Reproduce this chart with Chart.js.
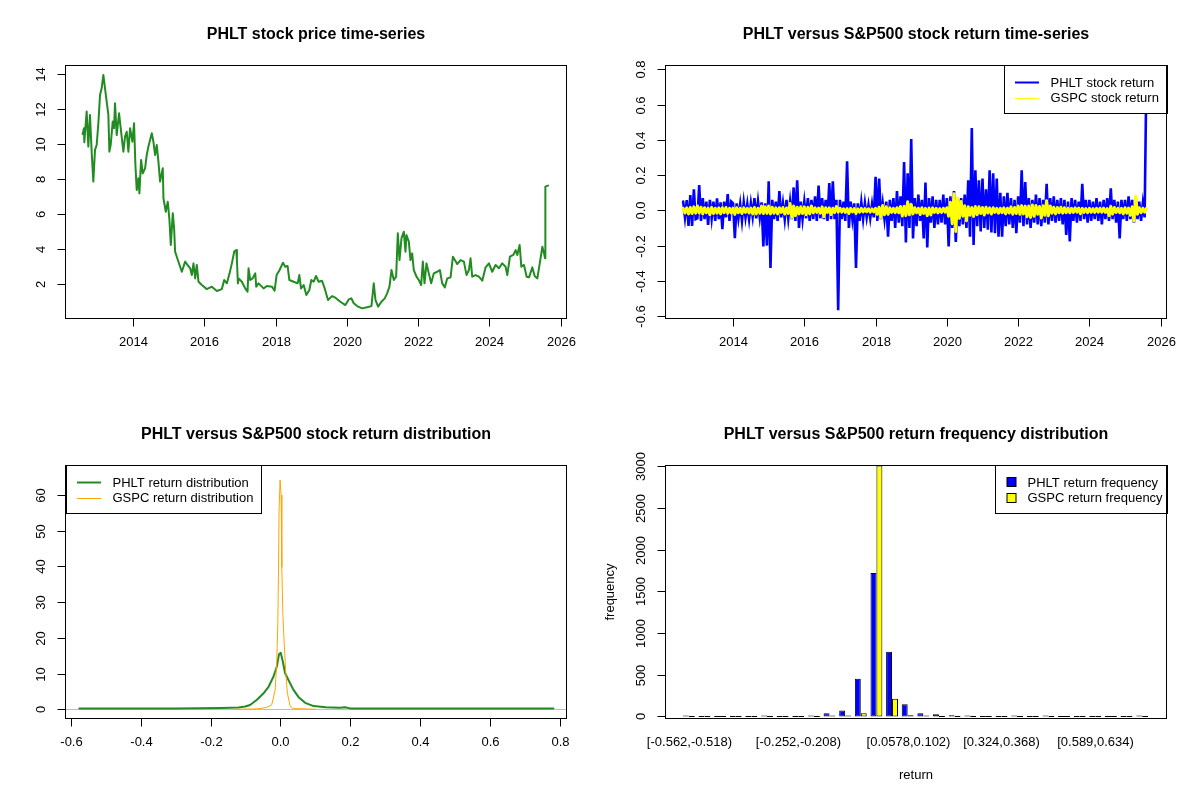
<!DOCTYPE html>
<html>
<head>
<meta charset="utf-8">
<script src="https://cdn.jsdelivr.net/npm/chart.js@4"></script>
<style>
  html, body { margin: 0; padding: 0; background: #fff; }
  #wrap { position: relative; width: 1200px; height: 800px; }
  #wrap canvas { position: absolute; }
</style>
</head>
<body>
<div id="wrap">
  <canvas id="priceChart" width="600" height="400" style="left:0;top:0"></canvas>
  <canvas id="returnChart" width="600" height="400" style="left:600px;top:0"></canvas>
  <canvas id="densityChart" width="600" height="400" style="left:0;top:400px"></canvas>
  <canvas id="freqChart" width="600" height="400" style="left:600px;top:400px"></canvas>
</div>
<script>
// ---- price series (decimal year, close) ----
const priceYears = [
  2012.585, 2012.623, 2012.632, 2012.698, 2012.745, 2012.791, 2012.838, 2012.885, 2012.932, 2012.979,
  2013.026, 2013.073, 2013.119, 2013.166, 2013.213, 2013.26, 2013.307, 2013.335, 2013.372, 2013.429,
  2013.466, 2013.494, 2013.541, 2013.607, 2013.653, 2013.728, 2013.775, 2013.822, 2013.869, 2013.916,
  2013.981, 2014.028, 2014.066, 2014.103, 2014.15, 2014.178, 2014.225, 2014.272, 2014.337, 2014.384,
  2014.431, 2014.525, 2014.571, 2014.618, 2014.665, 2014.712, 2014.759, 2014.834, 2014.853, 2014.918,
  2014.974, 2015.021, 2015.059, 2015.115, 2015.152, 2015.18, 2015.227, 2015.321, 2015.368, 2015.462,
  2015.527, 2015.602, 2015.649, 2015.696, 2015.743, 2015.789, 2015.836, 2015.93, 2016.07, 2016.211,
  2016.352, 2016.492, 2016.558, 2016.633, 2016.708, 2016.773, 2016.839, 2016.895, 2016.914, 2016.942,
  2016.961, 2017.054, 2017.148, 2017.213, 2017.241, 2017.288, 2017.354, 2017.429, 2017.457, 2017.523,
  2017.663, 2017.757, 2017.898, 2017.972, 2018.029, 2018.113, 2018.207, 2018.272, 2018.338, 2018.385,
  2018.507, 2018.619, 2018.666, 2018.713, 2018.788, 2018.863, 2018.947, 2019.003, 2019.069, 2019.135,
  2019.209, 2019.303, 2019.378, 2019.471, 2019.584, 2019.677, 2019.818, 2019.958, 2020.052, 2020.127,
  2020.193, 2020.287, 2020.427, 2020.568, 2020.69, 2020.755, 2020.802, 2020.877, 2020.97, 2021.064,
  2021.13, 2021.196, 2021.252, 2021.318, 2021.383, 2021.43, 2021.477, 2021.533, 2021.599, 2021.645,
  2021.673, 2021.739, 2021.786, 2021.832, 2021.879, 2021.954, 2022.02, 2022.085, 2022.132, 2022.179,
  2022.235, 2022.3, 2022.366, 2022.441, 2022.535, 2022.61, 2022.676, 2022.751, 2022.816, 2022.91,
  2022.976, 2023.031, 2023.097, 2023.191, 2023.284, 2023.359, 2023.425, 2023.471, 2023.518, 2023.612,
  2023.706, 2023.8, 2023.893, 2023.987, 2024.08, 2024.174, 2024.268, 2024.361, 2024.455, 2024.502,
  2024.577, 2024.671, 2024.737, 2024.783, 2024.849, 2024.896, 2024.971, 2025.046, 2025.112, 2025.205,
  2025.271, 2025.346, 2025.421, 2025.487, 2025.534, 2025.562, 2025.571, 2025.646
];
const priceValues = [
  10.57, 10.9, 10.1, 11.85, 9.85, 11.66, 9.56, 7.85, 9.66, 9.94,
  11.18, 12.8, 13.18, 13.94, 13.18, 12.42, 11.66, 9.56, 9.94, 11.28,
  10.9, 12.32, 10.51, 11.75, 10.9, 9.56, 10.42, 10.7, 9.56, 10.9,
  10.13, 11.18, 8.8, 7.37, 8.04, 7.18, 9.09, 8.32, 8.61, 9.37,
  9.85, 10.61, 10.13, 9.37, 9.94, 8.99, 7.85, 8.61, 6.9, 6.13,
  6.7, 5.66, 4.23, 6.04, 5.18, 3.85, 3.56, 2.99, 2.7, 3.28,
  3.09, 2.9, 2.51, 3.18, 2.32, 3.09, 2.13, 1.94, 1.71, 1.85,
  1.6, 1.71, 2.23, 2.04, 2.61, 3.18, 3.85, 3.94, 3.37, 2.04,
  2.32, 2.13, 1.75, 1.56, 2.9, 2.23, 2.32, 2.61, 1.85, 2.04,
  1.75, 1.89, 1.85, 1.62, 2.51, 2.8, 3.22, 2.99, 3.03, 2.23,
  2.13, 2.04, 2.51, 1.75, 1.94, 1.37, 1.66, 2.23, 2.13, 2.46,
  2.13, 2.19, 1.75, 1.09, 1.31, 1.22, 0.99, 0.8, 1.12, 1.18,
  0.9, 0.74, 0.61, 0.67, 0.74, 2.04, 1.09, 0.71, 0.99, 1.18,
  1.47, 1.85, 2.8, 2.23, 2.42, 4.9, 3.37, 4.61, 4.99, 3.85,
  4.8, 4.42, 3.37, 3.75, 2.8, 2.42, 2.23, 1.94, 3.28, 2.04,
  3.18, 2.61, 2.04, 2.61, 2.7, 2.8, 2.04, 1.81, 2.32, 2.38,
  3.56, 3.37, 3.14, 3.37, 3.28, 2.51, 2.8, 3.47, 2.42, 2.51,
  2.42, 2.19, 2.95, 3.18, 2.7, 3.09, 2.9, 3.18, 2.99, 2.51,
  3.56, 3.66, 3.94, 3.66, 4.23, 2.99, 3.09, 2.42, 2.38, 2.95,
  2.46, 2.32, 3.28, 4.13, 3.75, 3.47, 7.56, 7.62
];

// ---- return series, one value every 0.05 year from 2012.60 ----
const returnStartYear = 2012.6;
const returnStepYears = 0.05;
const phltReturns = [
  0.05, -0.04, 0.058, -0.088, 0.087, -0.088, 0.12, -0.05,
  -0.045, 0.143, -0.06, 0.07, -0.05, 0.05, -0.083, 0.06, -0.045, 0.05, -0.06, 0.068, -0.05, 0.045, -0.107, 0.05, -0.04, 0.092, -0.06, 0.05,
  0.04, -0.158, 0.04, -0.045, 0.035, -0.06, 0.045, -0.04, 0.035, -0.05, 0.04, -0.035, 0.07, -0.045, 0.05, -0.04, 0.045, -0.205, 0.04, -0.2,
  0.165, -0.327, 0.06, -0.05, 0.05, -0.06, 0.11, -0.04, 0.04, -0.05, 0.06, -0.045, 0.05, -0.05, 0.13, -0.06, 0.17, -0.1, 0.05, -0.05,
  0.05, -0.045, 0.07, -0.06, 0.06, -0.05, 0.08, -0.06, 0.14, -0.045, 0.07, -0.05, 0.06, -0.06, 0.155, -0.05, 0.165, -0.05, 0.06, -0.567,
  0.06, -0.05, 0.05, -0.06, 0.278, -0.1, 0.05, -0.05, 0.04, -0.327, 0.04, -0.06, 0.045, -0.05, 0.04, -0.04, 0.03, -0.045, 0.035, -0.04,
  0.19, -0.06, 0.18, -0.05, 0.04, -0.05, 0.05, -0.149, 0.06, -0.06, 0.07, -0.1, 0.11, -0.07, 0.08, -0.09, 0.274, -0.182, 0.21, -0.1,
  0.405, -0.16, 0.07, -0.09, 0.09, -0.06, 0.06, -0.16, 0.158, -0.21, 0.07, -0.07, 0.08, -0.1, 0.06, -0.08, 0.06, -0.07, 0.09, -0.08,
  0.07, -0.205, 0.08, -0.1, 0.11, -0.18, 0.06, -0.09, 0.07, -0.08, 0.09, -0.1, 0.17, -0.15, 0.467, -0.196, 0.227, -0.09, 0.17, -0.12,
  0.18, -0.1, 0.12, -0.11, 0.227, -0.125, 0.21, -0.13, 0.18, -0.149, 0.1, -0.15, 0.08, -0.09, 0.1, -0.08, 0.07, -0.1, 0.06, -0.13,
  0.08, -0.07, 0.227, -0.09, 0.16, -0.08, 0.07, -0.1, 0.06, -0.07, 0.09, -0.08, 0.07, -0.09, 0.06, -0.07, 0.15, -0.08, 0.07, -0.06,
  0.08, -0.07, 0.06, -0.06, 0.07, -0.08, 0.06, -0.14, 0.05, -0.177, 0.07, -0.06, 0.06, -0.07, 0.05, -0.06, 0.15, -0.05, 0.06, -0.07,
  0.06, -0.06, 0.05, -0.05, 0.07, -0.06, 0.05, -0.08, 0.06, -0.05, 0.07, -0.06, 0.125, -0.05, 0.06, -0.07, 0.05, -0.16, 0.06, -0.05,
  0.06, -0.06, 0.08, -0.05, 0.06, -0.07, 0.07, -0.05, 0.05, -0.06, 0.04, -0.04, 0.77
];
const gspcReturns = [
  0.012, -0.015, 0.014, -0.02, 0.016, -0.018, 0.02, -0.016,
  0.025, -0.015, 0.018, -0.02, 0.015, -0.014, 0.013, -0.025, 0.017, -0.018, 0.012, -0.016, 0.014, -0.02, 0.015, -0.013, 0.016, -0.017, 0.012, -0.015,
  0.013, -0.023, 0.015, -0.014, 0.012, -0.018, 0.014, -0.012, 0.011, -0.015, 0.013, -0.02, 0.016, -0.02, 0.012, -0.016, 0.024, -0.018, 0.02, -0.017,
  0.025, -0.02, 0.018, -0.017, 0.014, -0.02, 0.015, -0.012, 0.016, -0.021, 0.013, -0.018, 0.039, -0.04, 0.025, -0.03, 0.018, -0.02, 0.02, -0.018,
  0.02, -0.025, 0.017, -0.02, 0.025, -0.015, 0.014, -0.012, 0.013, -0.016, 0.02, -0.036, 0.015, -0.012, 0.014, -0.024, 0.012, -0.013, 0.022, -0.01,
  0.012, -0.01, 0.009, -0.012, 0.01, -0.018, 0.011, -0.009, 0.01, -0.018, 0.008, -0.01, 0.011, -0.009, 0.01, -0.008, 0.009, -0.01, 0.008, -0.009,
  0.012, -0.022, 0.018, -0.041, 0.027, -0.025, 0.02, -0.022, 0.014, -0.012, 0.011, -0.013, 0.015, -0.014, 0.022, -0.032, 0.023, -0.03, 0.049, -0.025,
  0.034, -0.02, 0.015, -0.014, 0.012, -0.024, 0.015, -0.018, 0.011, -0.03, 0.013, -0.026, 0.014, -0.012, 0.011, -0.014, 0.01, -0.012, 0.012, -0.01,
  0.015, -0.033, 0.046, -0.076, 0.094, -0.12, 0.07, -0.045, 0.05, -0.033, 0.026, -0.059, 0.02, -0.028, 0.016, -0.035, 0.022, -0.025, 0.02, -0.018,
  0.016, -0.026, 0.018, -0.015, 0.014, -0.021, 0.015, -0.012, 0.011, -0.016, 0.012, -0.013, 0.014, -0.02, 0.012, -0.015, 0.02, -0.022, 0.016, -0.018,
  0.025, -0.022, 0.027, -0.02, 0.024, -0.036, 0.025, -0.04, 0.03, -0.033, 0.028, -0.022, 0.022, -0.043, 0.026, -0.028, 0.055, -0.031, 0.025, -0.016,
  0.018, -0.02, 0.016, -0.014, 0.018, -0.016, 0.015, -0.013, 0.012, -0.014, 0.011, -0.012, 0.014, -0.011, 0.013, -0.019, 0.011, -0.012, 0.01, -0.013,
  0.012, -0.011, 0.01, -0.012, 0.011, -0.01, 0.012, -0.011, 0.013, -0.012, 0.01, -0.03, 0.023, -0.021, 0.016, -0.012, 0.012, -0.014, 0.011, -0.02,
  0.015, -0.016, 0.013, -0.028, 0.02, -0.06, 0.08, -0.022, 0.015, -0.014, 0.012, -0.01, 0.011
];

// ---- density curves ----
const phltDensX = [-0.576, -0.3, -0.17, -0.12, -0.101, -0.087, -0.068, -0.049, -0.034, -0.02, -0.0105, -0.004, 0.001, 0.007, 0.0135, 0.023, 0.037, 0.052, 0.071, 0.095, 0.13, 0.17, 0.185, 0.2, 0.5, 0.782];
const phltDensY = [0.2, 0.2, 0.35, 0.5, 0.8, 1.2, 2.6, 4.4, 6.3, 9.1, 11.9, 15.4, 15.8, 13.3, 10.1, 8.2, 5.5, 3.4, 1.8, 0.9, 0.6, 0.45, 0.55, 0.25, 0.2, 0.2];
const gspcDensX = [-0.13, -0.068, -0.04, -0.025, -0.015, -0.0103, -0.0075, -0.0057, -0.004, -0.001, 0.002, 0.004, 0.007, 0.0106, 0.0155, 0.02, 0.028, 0.037, 0.07, 0.1];
const gspcDensY = [0.0, 0.1, 0.5, 1.2, 5.4, 13.7, 23.9, 36.9, 55.4, 64.2, 60, 39.7, 26.7, 18.9, 10, 4.5, 0.8, 0.2, 0.1, 0.02];

// ---- frequency table ----
const binLabels = [
  '[-0.562,-0.518)', '[-0.518,-0.473)', '[-0.473,-0.429)', '[-0.429,-0.385)', '[-0.385,-0.341)',
  '[-0.341,-0.296)', '[-0.296,-0.252)', '[-0.252,-0.208)', '[-0.208,-0.164)', '[-0.164,-0.12)',
  '[-0.12,-0.0753)', '[-0.0753,-0.0311)', '[-0.0311,0.0133)', '[0.0133,0.0578)', '[0.0578,0.102)',
  '[0.102,0.146)', '[0.146,0.191)', '[0.191,0.235)', '[0.235,0.279)', '[0.279,0.324)',
  '[0.324,0.368)', '[0.368,0.412)', '[0.412,0.456)', '[0.456,0.501)', '[0.501,0.545)',
  '[0.545,0.589)', '[0.589,0.634)', '[0.634,0.678)', '[0.678,0.722)', '[0.722,0.767)'
];
const binLabelShown = [0, 7, 14, 20, 26];
const phltFreq = [1, 0, 0, 0, 0, 2, 0, 0, 12, 39, 71, 452, 1720, 777, 146, 39, 27, 15, 2, 0, 0, 1, 0, 1, 0, 0, 0, 0, 0, 1];
const gspcFreq = [0, 0, 0, 0, 0, 0, 0, 0, 0, 1, 2, 39, 3010, 214, 15, 2, 0, 0, 0, 0, 0, 0, 0, 0, 0, 0, 0, 0, 0, 0];

// ---- axis ticks ----
const yearTicks = [2014, 2016, 2018, 2020, 2022, 2024, 2026];
const priceTicks = [2, 4, 6, 8, 10, 12, 14];
const returnTicks = [-0.6, -0.4, -0.2, 0, 0.2, 0.4, 0.6, 0.8];
const returnTickLabels = ['-0.6', '-0.4', '-0.2', '0.0', '0.2', '0.4', '0.6', '0.8'];
const densTicks = [0, 10, 20, 30, 40, 50, 60];
const freqTicks = [0, 500, 1000, 1500, 2000, 2500, 3000];

const FONT = '"Liberation Sans", Arial, Helvetica, sans-serif';

function drawLegend(ctx, lg, area) {
  const left = lg.anchor === 'right' ? area.R - lg.width : area.L;
  const top = area.T;
  ctx.fillStyle = '#fff';
  ctx.fillRect(left, top, lg.width, lg.height);
  ctx.strokeStyle = '#000';
  ctx.lineWidth = 1;
  ctx.strokeRect(Math.round(left) + 0.5, top, lg.width, lg.height);
  ctx.font = '13px ' + FONT;
  ctx.textAlign = 'left';
  ctx.textBaseline = 'middle';
  lg.rows.forEach((r, i) => {
    const y = top + 16.5 + i * 15.7;
    let tx;
    if (r.kind === 'box') {
      ctx.fillStyle = r.color;
      ctx.fillRect(left + 12.5, Math.round(y) - 4.5, 9, 9);
      ctx.strokeStyle = '#000';
      ctx.strokeRect(left + 12.5, Math.round(y) - 4.5, 9, 9);
      tx = left + 33;
    } else {
      ctx.strokeStyle = r.color;
      ctx.lineWidth = r.lw;
      ctx.beginPath();
      ctx.moveTo(left + 11.5, Math.round(y) + 0.5);
      ctx.lineTo(left + 35.5, Math.round(y) + 0.5);
      ctx.stroke();
      ctx.lineWidth = 1;
      tx = left + 47;
    }
    ctx.fillStyle = '#000';
    ctx.fillText(r.label, tx, y + 1);
  });
}

// R-style frame, axes, title and legend
const rFrame = {
  id: 'rFrame',
  beforeDatasetsDraw(chart, args, o) {
    if (!o.zeroLine) return;
    const a = chart.chartArea, ctx = chart.ctx;
    const y = Math.round(chart.scales.y.getPixelForValue(0)) + 0.5;
    ctx.save();
    ctx.strokeStyle = '#bebebe';
    ctx.lineWidth = 1;
    ctx.beginPath();
    ctx.moveTo(a.left, y);
    ctx.lineTo(a.right, y);
    ctx.stroke();
    ctx.restore();
  },
  afterDraw(chart, args, o) {
    const ctx = chart.ctx, a = chart.chartArea;
    const xs = chart.scales.x, ys = chart.scales.y;
    const ext = o.frameExtra || 0;
    const L = Math.round(a.left - ext) + 0.5, R = Math.round(a.right + ext) + 0.5;
    const T = Math.round(a.top) + 0.5, B = Math.round(a.bottom) + 0.5;
    ctx.save();
    if (o.legend) drawLegend(ctx, o.legend, { L, R, T, B });
    ctx.strokeStyle = '#000';
    ctx.lineWidth = 1;
    ctx.strokeRect(L, T, R - L, B - T);
    ctx.fillStyle = '#000';
    ctx.font = '13px ' + FONT;

    // x axis
    const xp = o.xTicks.map(v => Math.round(xs.getPixelForValue(v)) + 0.5);
    if (o.xTickMarks !== false) {
      ctx.beginPath();
      ctx.moveTo(xp[0], B);
      ctx.lineTo(xp[xp.length - 1], B);
      xp.forEach(x => { ctx.moveTo(x, B); ctx.lineTo(x, B + 8); });
      ctx.stroke();
    }
    ctx.textAlign = 'center';
    ctx.textBaseline = 'middle';
    o.xTicks.forEach((v, i) => ctx.fillText(o.xLabels[i], xp[i], B + 24));

    // y axis
    const yp = o.yTicks.map(v => Math.round(ys.getPixelForValue(v)) + 0.5);
    ctx.beginPath();
    ctx.moveTo(L, yp[0]);
    ctx.lineTo(L, yp[yp.length - 1]);
    yp.forEach(y => { ctx.moveTo(L, y); ctx.lineTo(L - 8, y); });
    ctx.stroke();
    o.yTicks.forEach((v, i) => {
      ctx.save();
      ctx.translate(L - 24, yp[i]);
      ctx.rotate(-Math.PI / 2);
      ctx.fillText(o.yLabels[i], 0, 0);
      ctx.restore();
    });

    // axis titles
    if (o.xTitle) ctx.fillText(o.xTitle, (L + R) / 2, 375);
    if (o.yTitle) {
      ctx.save();
      ctx.translate(L - 55, (T + B) / 2);
      ctx.rotate(-Math.PI / 2);
      ctx.fillText(o.yTitle, 0, 0);
      ctx.restore();
    }

    // main title
    ctx.font = 'bold 16px ' + FONT;
    ctx.fillText(o.title, (L + R) / 2, 35);
    ctx.restore();
  }
};
Chart.register(rFrame);

function rOptions(xr, yr, pad, frame) {
  return {
    responsive: false,
    animation: false,
    devicePixelRatio: 1,
    events: [],
    layout: { padding: pad },
    plugins: { legend: { display: false }, tooltip: { enabled: false }, rFrame: frame },
    scales: {
      x: { type: 'linear', min: xr[0], max: xr[1], display: false },
      y: { type: 'linear', min: yr[0], max: yr[1], display: false }
    }
  };
}

const boxPad = { left: 65, right: 34, top: 65, bottom: 82 };
const lineStyle = { pointRadius: 0, tension: 0, borderJoinStyle: 'round', borderCapStyle: 'round', fill: false };

// 1. price
new Chart(document.getElementById('priceChart'), {
  type: 'line',
  data: {
    datasets: [{
      ...lineStyle,
      data: priceYears.map((x, i) => ({ x, y: priceValues[i] })),
      borderColor: '#228B22',
      borderWidth: 2
    }]
  },
  options: rOptions([2012.09, 2026.15], [0.06, 14.51], boxPad, {
    title: 'PHLT stock price time-series',
    xTicks: yearTicks, xLabels: yearTicks.map(String),
    yTicks: priceTicks, yLabels: priceTicks.map(String)
  })
});

// 2. returns (thicker strokes stand in for the overplotted daily series)
const returnYears = phltReturns.map((_, i) => returnStartYear + i * returnStepYears);
new Chart(document.getElementById('returnChart'), {
  type: 'line',
  data: {
    datasets: [{
      ...lineStyle,
      label: 'GSPC stock return',
      data: returnYears.map((x, i) => ({ x, y: gspcReturns[i] })),
      borderColor: '#FFFF00',
      borderWidth: 3,
      order: 0
    }, {
      ...lineStyle,
      label: 'PHLT stock return',
      data: returnYears.map((x, i) => ({ x, y: phltReturns[i] })),
      borderColor: '#0000FF',
      borderWidth: 2.6,
      borderJoinStyle: 'miter',
      order: 1
    }]
  },
  options: rOptions([2012.09, 2026.15], [-0.611, 0.825], boxPad, {
    title: 'PHLT versus S&P500 stock return time-series',
    xTicks: yearTicks, xLabels: yearTicks.map(String),
    yTicks: returnTicks, yLabels: returnTickLabels,
    legend: {
      anchor: 'right', width: 163, height: 48,
      rows: [
        { label: 'PHLT stock return', color: '#0000FF', lw: 2 },
        { label: 'GSPC stock return', color: '#FFFF00', lw: 1 }
      ]
    }
  })
});

// 3. density
new Chart(document.getElementById('densityChart'), {
  type: 'line',
  data: {
    datasets: [{
      ...lineStyle,
      label: 'GSPC return distribution',
      data: gspcDensX.map((x, i) => ({ x, y: gspcDensY[i] })),
      borderColor: '#FFA500',
      borderWidth: 1,
      order: 0
    }, {
      ...lineStyle,
      label: 'PHLT return distribution',
      data: phltDensX.map((x, i) => ({ x, y: phltDensY[i] })),
      borderColor: '#228B22',
      borderWidth: 2,
      order: 1
    }]
  },
  options: rOptions([-0.617, 0.818], [-2.44, 68.4], boxPad, {
    title: 'PHLT versus S&P500 stock return distribution',
    zeroLine: true,
    xTicks: returnTicks, xLabels: returnTickLabels,
    yTicks: densTicks, yLabels: densTicks.map(String),
    legend: {
      anchor: 'left', width: 195, height: 48,
      rows: [
        { label: 'PHLT return distribution', color: '#228B22', lw: 2 },
        { label: 'GSPC return distribution', color: '#FFA500', lw: 1 }
      ]
    }
  })
});

// 4. frequency bars
const freqOptions = rOptions([0, 1], [-18, 3017], { left: 81, right: 50, top: 65, bottom: 82 }, {
  title: 'PHLT versus S&P500 return frequency distribution',
  frameExtra: 16,
  xTickMarks: false,
  xTicks: binLabelShown, xLabels: binLabelShown.map(i => binLabels[i]),
  yTicks: freqTicks, yLabels: freqTicks.map(String),
  xTitle: 'return', yTitle: 'frequency',
  legend: {
    anchor: 'right', width: 172, height: 48,
    rows: [
      { label: 'PHLT return frequency', color: '#0000FF', kind: 'box' },
      { label: 'GSPC return frequency', color: '#FFFF00', kind: 'box' }
    ]
  }
});
freqOptions.scales.x = { type: 'category', offset: true, display: false };
new Chart(document.getElementById('freqChart'), {
  type: 'bar',
  data: {
    labels: binLabels,
    datasets: [{
      label: 'PHLT return frequency',
      data: phltFreq,
      backgroundColor: '#0000FF'
    }, {
      label: 'GSPC return frequency',
      data: gspcFreq,
      backgroundColor: '#FFFF00'
    }].map(d => ({
      ...d,
      borderColor: '#000',
      borderWidth: 1,
      borderSkipped: false,
      minBarLength: 1,
      categoryPercentage: 0.76,
      barPercentage: 1
    }))
  },
  options: freqOptions
});
</script>
</body>
</html>
